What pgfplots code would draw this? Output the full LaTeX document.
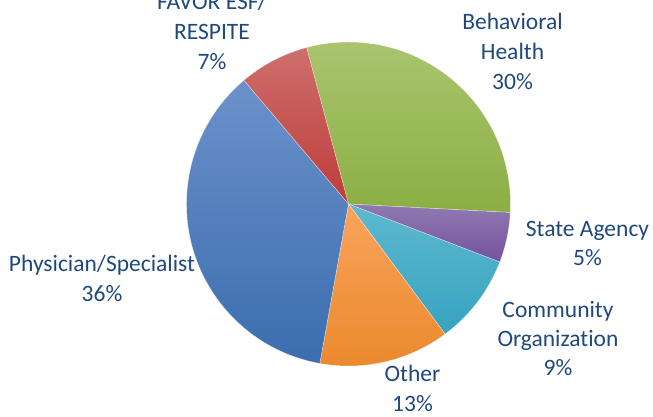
\documentclass[border=0pt]{standalone}
\usepackage{pgfplots}
\usepackage{pgfplotstable}
\pgfplotsset{compat=1.18}
\usepackage{fontspec}
\setmainfont{Carlito}[Ligatures=NoCommon]

\definecolor{txt}{HTML}{1F497D}
\definecolor{bhT}{HTML}{ABC670}\definecolor{bhB}{HTML}{8BAE44}
\definecolor{saT}{HTML}{907AB0}\definecolor{saB}{HTML}{7452A0}
\definecolor{coT}{HTML}{5EB8D0}\definecolor{coB}{HTML}{36A3BF}
\definecolor{otT}{HTML}{FAA45C}\definecolor{otB}{HTML}{EA882C}
\definecolor{phT}{HTML}{6C91CA}\definecolor{phB}{HTML}{3B6DAF}
\definecolor{faT}{HTML}{CD6F6C}\definecolor{faB}{HTML}{BE3C39}

\pgfplotstableread{
name value top bottom
BH 30 bhT bhB
SA 5 saT saB
CO 9 coT coB
OT 13 otT otB
PH 36 phT phB
FA 7 faT faB
}\piedata

\newcommand{\lbl}[3]{\node[anchor=base,text=txt,font=\fontsize{23.5}{28}\selectfont,inner sep=0pt] at (axis cs:#1,#2) {#3};}

\begin{document}
\begin{tikzpicture}
\begin{axis}[
  x=1pt, y=1pt,
  xmin=0, xmax=653, ymin=0, ymax=417,
  hide axis, clip=false,
]
\path (rel axis cs:0,0) coordinate (bl) (rel axis cs:1,1) coordinate (tr);
\pgfplotsextra{
  \xdef\angA{105}
  \foreach \i in {0,...,5}{
    \pgfplotstablegetelem{\i}{value}\of\piedata \edef\v{\pgfplotsretval}
    \pgfplotstablegetelem{\i}{top}\of\piedata \edef\tc{\pgfplotsretval}
    \pgfplotstablegetelem{\i}{bottom}\of\piedata \edef\bc{\pgfplotsretval}
    \pgfmathsetmacro\angB{\angA-3.6*\v}
    \shade[top color=\tc, bottom color=\bc, draw=white, draw opacity=0.5, line width=0.5pt]
      (axis cs:348.5,213) -- ++(\angA:162pt) arc[start angle=\angA, end angle=\angB, radius=162pt] -- cycle;
    \xdef\angA{\angB}
  }
}
\lbl{212}{407}{FAVOR ESF/}
\lbl{212}{377}{RESPITE}
\lbl{212}{347}{7\%}
\lbl{512.5}{387}{Behavioral}
\lbl{512.5}{357}{Health}
\lbl{512.5}{327}{30\%}
\lbl{102}{145}{Physician/Specialist}
\lbl{102}{115}{36\%}
\lbl{587.5}{180}{State Agency}
\lbl{587.5}{151}{5\%}
\lbl{558}{99}{Community}
\lbl{558}{70}{Organization}
\lbl{558}{41}{9\%}
\lbl{412.5}{35}{Other}
\lbl{412.5}{5}{13\%}
\end{axis}
\pgfresetboundingbox
\useasboundingbox (bl) rectangle (tr);
\end{tikzpicture}
\end{document}
